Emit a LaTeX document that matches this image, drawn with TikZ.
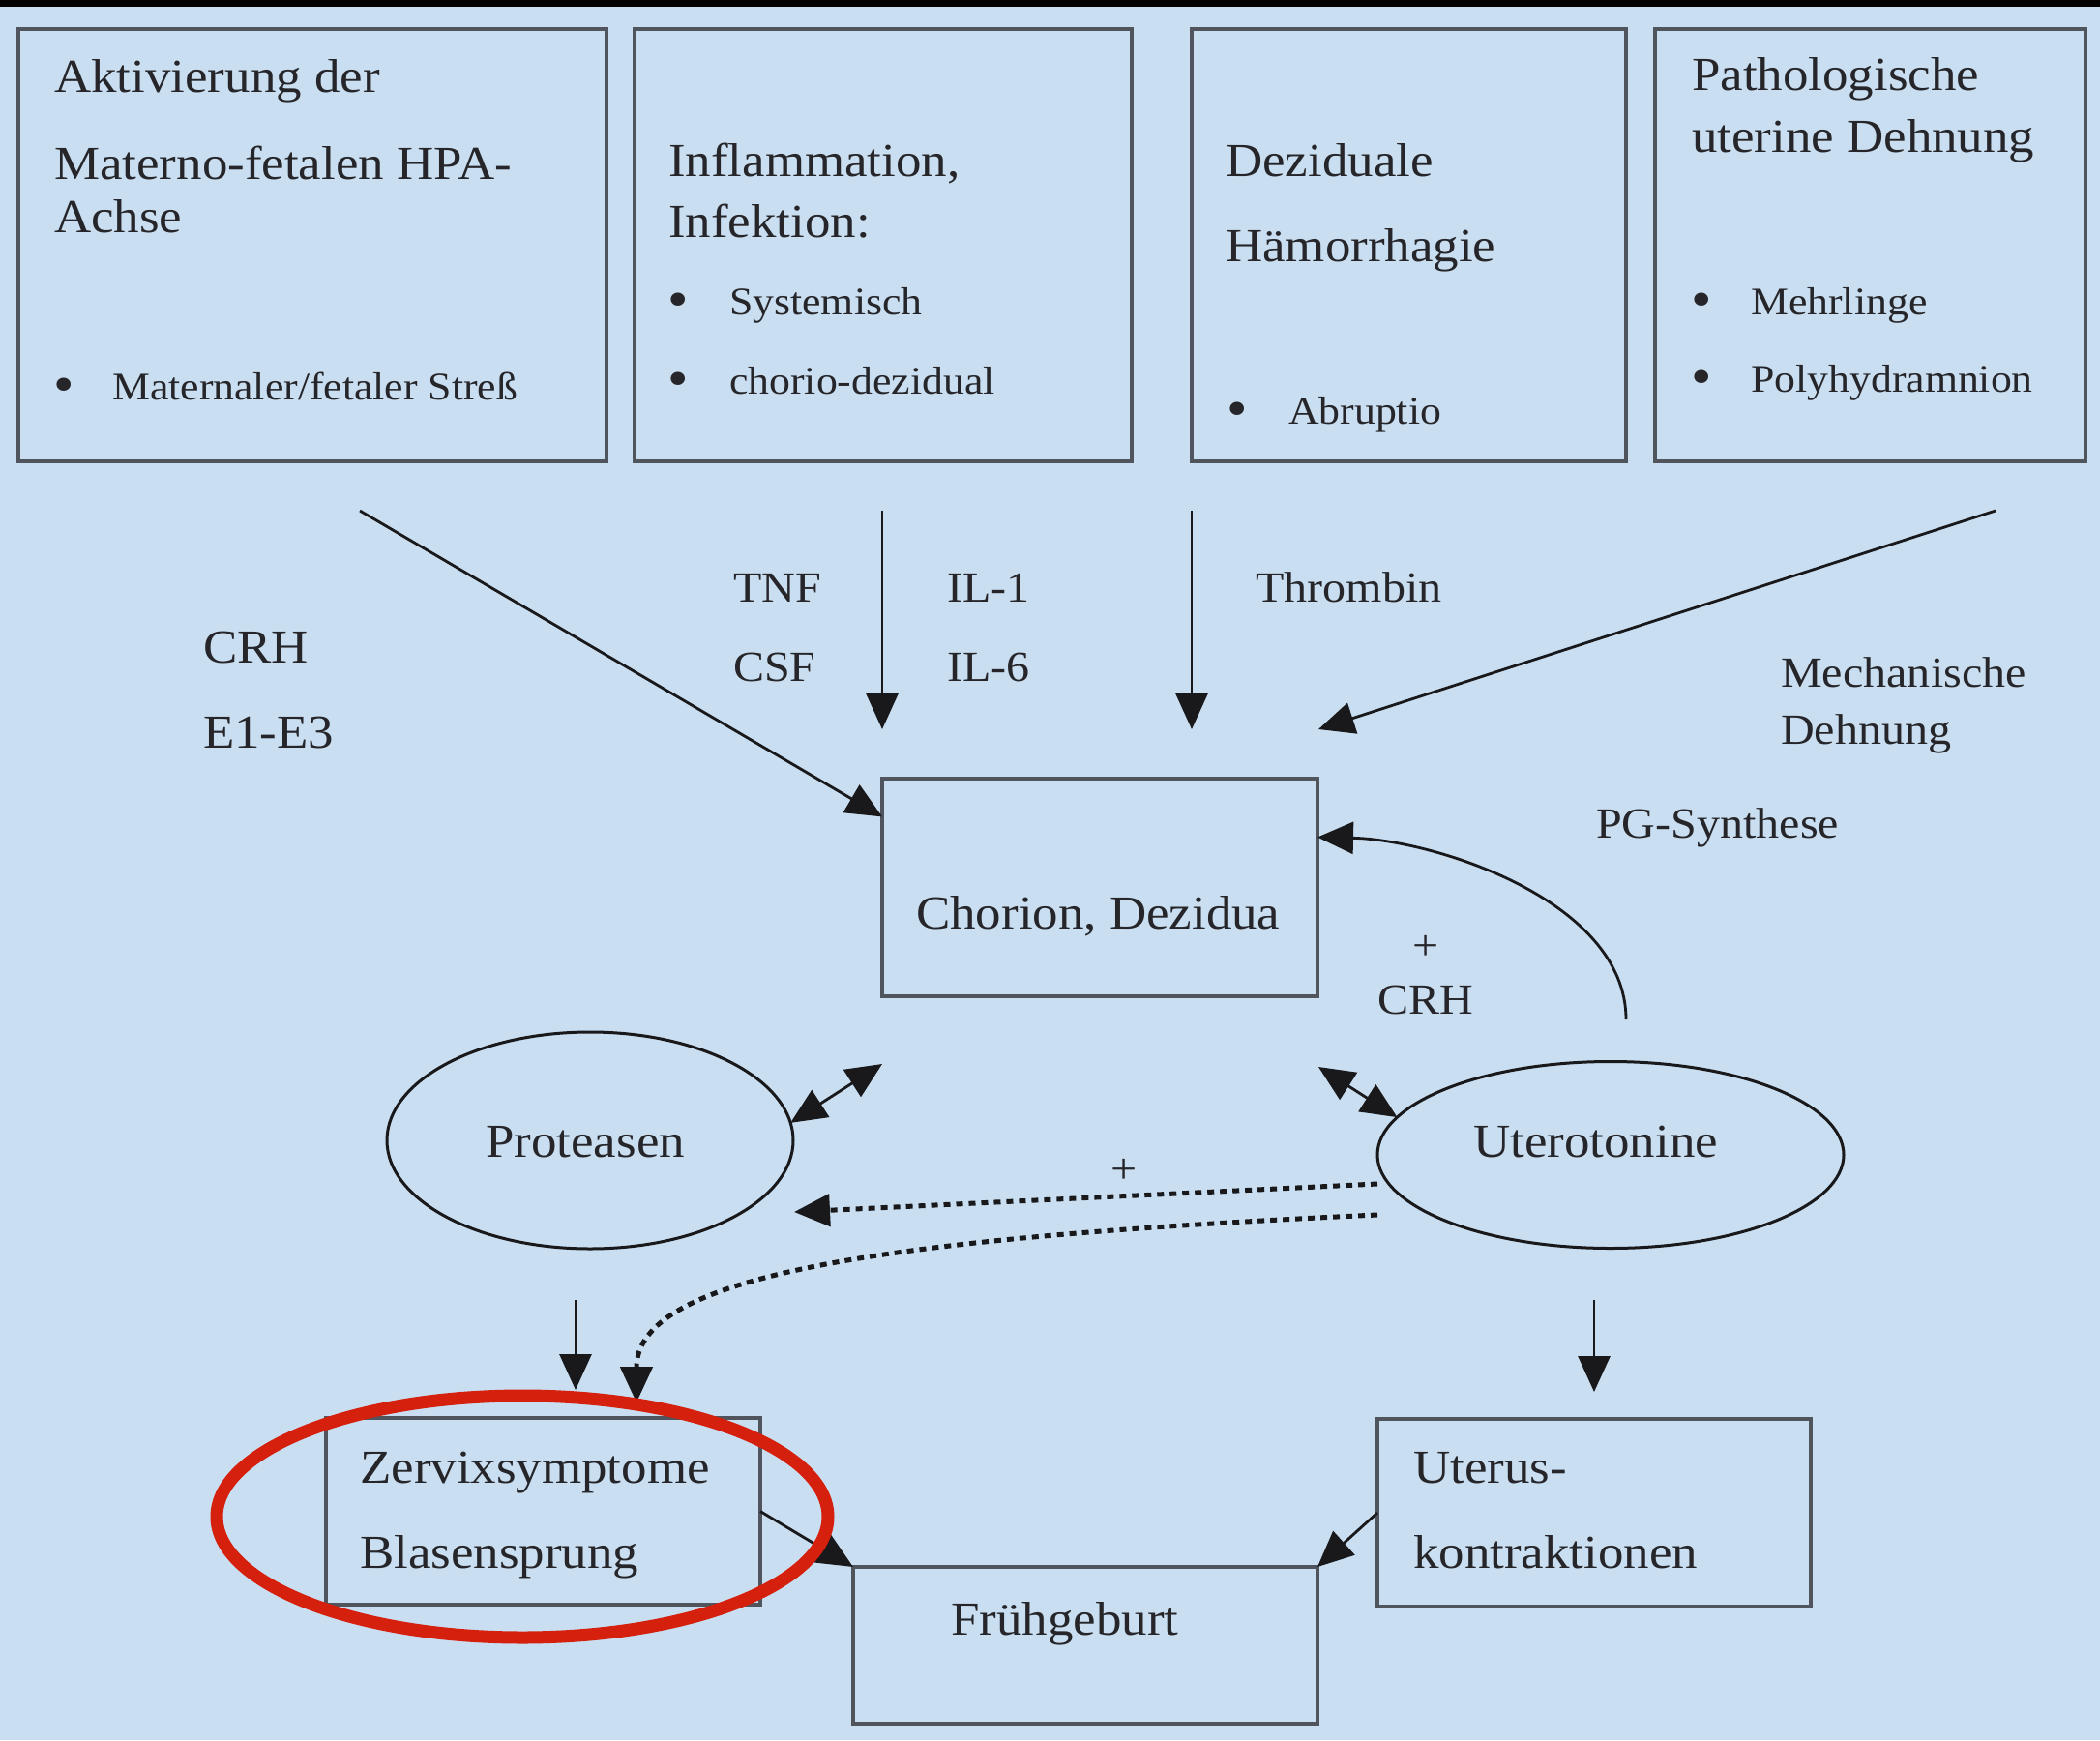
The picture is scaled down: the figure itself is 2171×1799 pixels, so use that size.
\documentclass[tikz,border=0pt]{standalone}
\usepackage{fontspec}
\setmainfont{Liberation Serif}[FakeStretch=1.08]
\usetikzlibrary{arrows.meta,shapes.geometric}
\definecolor{bgblue}{RGB}{201,222,240}
\definecolor{boxline}{RGB}{80,84,92}
\definecolor{ink}{RGB}{38,38,42}
\definecolor{arrink}{RGB}{25,25,28}
\definecolor{markred}{RGB}{212,32,12}
\newcommand{\bulitem}[2]{\makebox[#1][l]{\raisebox{-3pt}{\scalebox{1.4}{\textbullet}}}#2}

\tikzset{
 box/.style={draw=boxline, line width=4pt, rectangle, inner sep=0pt, outer sep=0pt, anchor=north west},
 oval/.style={draw=arrink, line width=3pt, ellipse, inner sep=0pt, outer sep=0pt},
 txtM/.style={anchor=base west, inner sep=0pt, text=ink, font=\fontsize{44.5}{50}\selectfont},
 txtL/.style={txtM, font=\fontsize{49}{56}\selectfont},
 txtS/.style={txtM, font=\fontsize{40.5}{46}\selectfont},
 arr/.style={draw=arrink, line width=2.8pt, -{Triangle[length=37pt,width=33pt]}},
 dbl/.style={arr, {Triangle[length=37pt,width=33pt]}-{Triangle[length=37pt,width=33pt]}},
 dots/.style={arr, line width=5pt, dash pattern=on 7pt off 6pt}
}

\begin{document}
\begin{tikzpicture}[x=1pt,y=-1pt]
\useasboundingbox (0,0) rectangle (2171,1799);
\fill[bgblue] (0,0) rectangle (2171,1799);
\fill[black] (0,0) rectangle (2171,7);

\node[box, minimum width=608pt, minimum height=447pt] (b1) at (19,30) {};
\node[box, minimum width=514pt, minimum height=447pt] (b2) at (656,30) {};
\node[box, minimum width=449pt, minimum height=447pt] (b3) at (1232,30) {};
\node[box, minimum width=445pt, minimum height=447pt] (b4) at (1711,30) {};
\node[box, minimum width=450pt, minimum height=225pt] (chor) at (912,805) {};
\node[box, minimum width=449pt, minimum height=193pt] (zerv) at (337,1466) {};
\node[box, minimum width=448pt, minimum height=194pt] (uter) at (1424,1467) {};
\node[box, minimum width=480pt, minimum height=162pt] (frueh) at (882,1620) {};
\node[oval, minimum width=420pt, minimum height=224pt] (prot) at (610,1179) {};
\node[oval, minimum width=482pt, minimum height=193pt] (utero) at (1665,1194) {};

\node[txtL] (a1) at (56,95) {Aktivierung der};
\node[txtL] (a2) at (56,185) {Materno-fetalen HPA-};
\node[txtL] (a3) at (56,240) {Achse};
\node[txtS] (a4) at (55,413) {\bulitem{61pt}{Maternaler/fetaler Streß}};
\node[txtL] (i1) at (691,182) {Inflammation,};
\node[txtL] (i2) at (691,245) {Infektion:};
\node[txtS] (i3) at (690,325) {\bulitem{64pt}{Systemisch}};
\node[txtS] (i4) at (690,407) {\bulitem{64pt}{chorio-dezidual}};
\node[txtL] (d1) at (1267,182) {Deziduale};
\node[txtL] (d2) at (1267,270) {Hämorrhagie};
\node[txtS] (d3) at (1268,438) {\bulitem{64pt}{Abruptio}};
\node[txtL] (p1) at (1749,93) {Pathologische};
\node[txtL] (p2) at (1749,157) {uterine Dehnung};
\node[txtS] (p3) at (1748,325) {\bulitem{62pt}{Mehrlinge}};
\node[txtS] (p4) at (1748,405) {\bulitem{62pt}{Polyhydramnion}};

\node[txtL] (crh) at (210,685) {CRH};
\node[txtL] (estr) at (210,773) {E1-E3};
\node[txtM] (tnf) at (758,622) {TNF};
\node[txtM] (csf) at (758,704) {CSF};
\node[txtM] (il1) at (979,622) {IL-1};
\node[txtM] (il6) at (979,704) {IL-6};
\node[txtM] (thr) at (1298,622) {Thrombin};
\node[txtM] (mech1) at (1841,710) {Mechanische};
\node[txtM] (mech2) at (1841,769) {Dehnung};
\node[txtM] (pgs) at (1650,866) {PG-Synthese};
\node[txtM, anchor=base] (plus1) at (1474,992) {+};
\node[txtM] (crh2) at (1424,1048) {CRH};
\node[txtM, anchor=base] (plus2) at (1162,1223) {+};

\node[txtL] (chort) at (947,960) {Chorion, Dezidua};
\node[txtL] (prott) at (502,1196) {Proteasen};
\node[txtL] (uterot) at (1523,1196) {Uterotonine};
\node[txtL] (zerv1) at (372,1533) {Zervixsymptome};
\node[txtL] (zerv2) at (372,1621) {Blasensprung};
\node[txtL] (uter1) at (1461,1533) {Uterus-};
\node[txtL] (uter2) at (1461,1621) {kontraktionen};
\node[txtL] (fruet) at (983,1690) {Frühgeburt};

\coordinate (hpa) at (372,528);
\coordinate (mech) at (2063,528);
\coordinate (mechend) at (1363,754);
\coordinate (pg) at (1681,1054);
\coordinate (pc) at (912,1100);
\coordinate (uc) at (1363,1103);
\coordinate (pdot) at (821,1253);
\coordinate (udot1) at (1424,1224);
\coordinate (udot2) at (1424,1256);
\coordinate (zdot) at (658,1450);
\coordinate (pd1) at (595,1344);
\coordinate (pd2) at (595,1437);
\coordinate (ud1) at (1648,1344);
\coordinate (ud2) at (1648,1439);

\draw[arr] (hpa) -- (chor.162);
\draw[arr, shorten <=51pt, shorten >=51pt] (chor.north west |- b2.south) -- (chor.north west);
\draw[arr, shorten <=51pt, shorten >=51pt] (b3.south west) -- (b3.south west |- chor.north);
\draw[arr] (mech) -- (mechend);
\draw[arr] (pg) .. controls (1681,930) and (1480,868) .. (chor.13);
\draw[dbl] (prot.5) -- (pc);
\draw[dbl] (utero.170) -- (uc);
\draw[dots] (udot1) -- (pdot);
\draw[dots] (udot2) .. controls (900,1280) and (658,1320) .. (zdot);
\draw[arr] (pd1) -- (pd2);
\draw[arr] (ud1) -- (ud2);
\draw[arr] (zerv.east) -- (frueh.north west);
\draw[arr] (uter.west) -- (frueh.north east);

\node[draw=markred, line width=13pt, ellipse, inner sep=0pt, minimum width=632pt, minimum height=250pt] (ring) at (540,1568) {};
\end{tikzpicture}
\end{document}
